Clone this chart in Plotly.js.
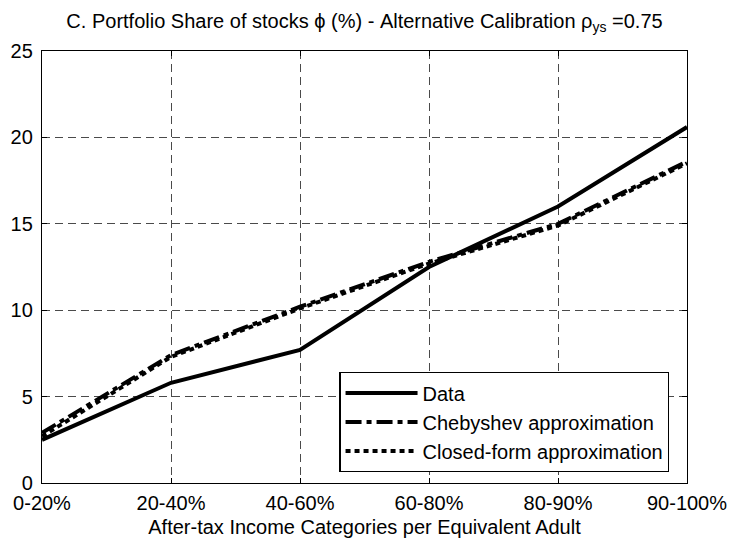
<!DOCTYPE html>
<html>
<head>
<meta charset="utf-8">
<script src="https://cdn.plot.ly/plotly-3.0.1.min.js"></script>
<style>html,body{margin:0;padding:0;background:#fff;}#chart{width:729px;height:541px;}</style>
</head>
<body>
<div id="chart"></div>
<script>
const categories = ["0-20%", "20-40%", "40-60%", "60-80%", "80-90%", "90-100%"];
const dataShare = [2.5, 5.8, 7.7, 12.5, 16.0, 20.6];
const chebyshevShare = [2.9, 7.4, 10.2, 12.8, 15.0, 18.6];
const closedFormShare = [2.7, 7.3, 10.1, 12.7, 14.9, 18.5];
const yTicks = [0, 5, 10, 15, 20, 25];

const font = {family: "Liberation Sans, Arial, sans-serif", size: 20, color: "#000"};

const traces = [
  {x: categories, y: dataShare, name: "Data", mode: "lines",
   line: {color: "#000", width: 4, dash: "solid"}},
  {x: categories, y: chebyshevShare, name: "Chebyshev approximation", mode: "lines",
   line: {color: "#000", width: 4, dash: "16px,5px,5px,5px"}},
  {x: categories, y: closedFormShare, name: "Closed-form approximation", mode: "lines",
   line: {color: "#000", width: 4, dash: "5px,4px"}}
];

const axisCommon = {
  showline: true, linecolor: "#000", linewidth: 1.2, mirror: "ticks",
  ticks: "inside", ticklen: 5, tickcolor: "#000",
  showgrid: true, gridcolor: "#4a4a4a", gridwidth: 1, griddash: "8px,5px",
  zeroline: false, tickfont: font
};

const layout = {
  width: 729, height: 541,
  margin: {l: 42, r: 42, t: 51, b: 58},
  paper_bgcolor: "#fff", plot_bgcolor: "#fff",
  font: font,
  title: {text: "C. Portfolio Share of stocks \u03d5 (%) - Alternative Calibration \u03c1<sub>ys</sub> =0.75",
          font: font, x: 0.5, xanchor: "center", y: 0.962, yanchor: "middle"},
  xaxis: Object.assign({}, axisCommon, {
    type: "category", categoryarray: categories, range: [0, 5],
    ticklabelstandoff: 2,
    title: {text: "After-tax Income Categories per Equivalent Adult", font: font, standoff: 6}
  }),
  yaxis: Object.assign({}, axisCommon, {
    range: [0, 25], tickvals: yTicks, ticktext: yTicks.map(String),
    ticklabelstandoff: 4
  }),
  showlegend: true,
  legend: {
    x: 0.461, xanchor: "left", y: 0.025, yanchor: "bottom",
    bgcolor: "#fff", bordercolor: "#000", borderwidth: 1.2,
    font: font, tracegroupgap: 0, itemwidth: 72
  }
};

Plotly.newPlot("chart", traces, layout, {staticPlot: true, displayModeBar: false});
</script>
</body>
</html>
